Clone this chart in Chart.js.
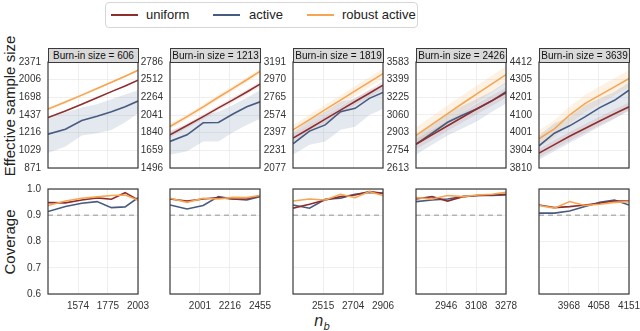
<!DOCTYPE html>
<html>
<head>
<meta charset="utf-8">
<script src="https://cdn.jsdelivr.net/npm/chart.js@4/dist/chart.umd.min.js"></script>
<style>
  body { margin: 0; width: 640px; height: 331px; position: relative; overflow: hidden; background: #fff;
         font-family: "Liberation Sans", Arial, sans-serif; color: #222; }
  .pane { position: absolute; }
  .head { position: absolute; top: 48px; width: 91px; height: 15px; box-sizing: border-box; background: #d9d9d9;
          border: 1px solid #3a3a3a; font-size: 10px; line-height: 13px; text-align: center; color: #111;
          white-space: nowrap; overflow: hidden; z-index: 2; }
  #legend { position: absolute; left: 105px; top: 2px; width: 313px; height: 26px; box-sizing: border-box;
            border: 1px solid #d6d6d6; border-radius: 4px; }
  .swatch { position: absolute; top: 11px; width: 27px; height: 2px; }
  .ltext { position: absolute; top: 3px; font-size: 13px; line-height: 18px; color: #222; white-space: nowrap; }
  .ytitle { position: absolute; transform: translate(-50%, -50%) rotate(-90deg); white-space: nowrap; font-size: 15px; color: #222; }
  #xtitle { position: absolute; left: 322px; top: 322px; transform: translate(-50%, -50%); font-family: "DejaVu Sans", sans-serif;
            font-style: italic; font-size: 15px; color: #222; }
  #xtitle sub { font-size: 10px; }
</style>
</head>
<body>
<div id="legend"></div>
<div class="ytitle" style="left:9px; top:106px;">Effective sample size</div>
<div class="ytitle" style="left:9px; top:242px;">Coverage</div>
<div id="xtitle">n<sub>b</sub></div>

<script>
const seriesNames = ['uniform', 'active', 'robust active'];
const seriesColors = ['#8f2d2d', '#475b80', '#f7a550'];
const bandColors = ['rgba(143,45,45,0.1)', 'rgba(120,140,175,0.2)', 'rgba(247,165,80,0.15)'];

const burnIn = [606, 1213, 1819, 2426, 3639];

// n_b values per panel
const nbValues = [
  [1395, 1496, 1598, 1699, 1800, 1902, 2003],
  [1807, 1915, 2023, 2131, 2239, 2347, 2455],
  [2339, 2434, 2528, 2623, 2717, 2812, 2906],
  [2792, 2873, 2954, 3035, 3116, 3197, 3278],
  [3880, 3925, 3970, 4016, 4061, 4106, 4151]
];
const nbTicks = [
  [1574, 1775, 2003],
  [2001, 2216, 2455],
  [2515, 2704, 2906],
  [2946, 3108, 3278],
  [3968, 4058, 4151]
];
const essTicks = [
  [871, 1029, 1216, 1437, 1698, 2006, 2371],
  [1496, 1659, 1840, 2041, 2264, 2512, 2786],
  [2077, 2231, 2397, 2574, 2765, 2970, 3191],
  [2613, 2754, 2903, 3060, 3225, 3399, 3583],
  [3810, 3904, 4001, 4100, 4201, 4305, 4412]
];

// effective sample size
const essUniform = [
  [1402, 1494, 1592, 1691, 1792, 1892, 1997],
  [1817, 1920, 2022, 2128, 2231, 2337, 2446],
  [2344, 2437, 2532, 2626, 2719, 2812, 2905],
  [2805, 2884, 2963, 3042, 3119, 3194, 3269],
  [3889, 3935, 3981, 4024, 4066, 4107, 4147]
];
const essUniformLo = [
  [1394, 1485, 1583, 1681, 1782, 1881, 1985],
  [1790, 1891, 1992, 2096, 2198, 2302, 2409],
  [2309, 2400, 2494, 2587, 2678, 2770, 2861],
  [2763, 2841, 2919, 2996, 3072, 3146, 3220],
  [3866, 3911, 3957, 4000, 4042, 4082, 4122]
];
const essUniformHi = [
  [1410, 1503, 1601, 1701, 1802, 1903, 2009],
  [1844, 1949, 2052, 2160, 2264, 2372, 2483],
  [2379, 2474, 2570, 2665, 2760, 2854, 2949],
  [2847, 2927, 3007, 3088, 3166, 3242, 3318],
  [3912, 3959, 4005, 4048, 4090, 4132, 4172]
];
const essActive = [
  [1199, 1257, 1364, 1420, 1483, 1555, 1639],
  [1748, 1817, 1950, 1954, 2053, 2142, 2206],
  [2291, 2412, 2473, 2610, 2645, 2754, 2821],
  [2805, 2898, 2994, 3060, 3120, 3192, 3279],
  [3929, 3998, 4039, 4089, 4142, 4184, 4243]
];
const essActiveLo = [
  [1003, 1067, 1183, 1209, 1247, 1342, 1461],
  [1617, 1650, 1748, 1748, 1845, 1926, 1996],
  [2191, 2282, 2313, 2424, 2456, 2575, 2637],
  [2718, 2800, 2879, 2941, 3006, 3090, 3167],
  [3854, 3899, 3944, 3989, 4035, 4078, 4128]
];
const essActiveHi = [
  [1411, 1470, 1541, 1589, 1669, 1745, 1816],
  [1862, 1926, 2034, 2081, 2164, 2259, 2362],
  [2401, 2523, 2610, 2717, 2753, 2847, 2913],
  [2885, 2971, 3076, 3146, 3214, 3285, 3377],
  [3985, 4054, 4090, 4157, 4195, 4234, 4288]
];
const essRobust = [
  [1520, 1626, 1734, 1846, 1958, 2073, 2193],
  [1908, 2022, 2142, 2265, 2387, 2511, 2638],
  [2424, 2526, 2631, 2734, 2838, 2941, 3045],
  [2879, 2975, 3072, 3169, 3264, 3357, 3451],
  [3967, 4022, 4100, 4165, 4214, 4263, 4312]
];
const essRobustLo = [
  [1497, 1603, 1711, 1824, 1937, 2052, 2171],
  [1879, 1992, 2110, 2231, 2351, 2473, 2598],
  [2376, 2475, 2578, 2679, 2781, 2882, 2984],
  [2807, 2901, 2995, 3090, 3182, 3273, 3365],
  [3919, 3974, 4051, 4115, 4163, 4212, 4260]
];
const essRobustHi = [
  [1543, 1649, 1757, 1868, 1979, 2094, 2215],
  [1937, 2052, 2174, 2299, 2423, 2549, 2678],
  [2472, 2577, 2684, 2789, 2895, 3000, 3106],
  [2951, 3049, 3149, 3248, 3346, 3441, 3537],
  [4015, 4070, 4149, 4215, 4265, 4314, 4364]
];

// coverage
const covUniform = [
  [0.948, 0.947, 0.958, 0.966, 0.961, 0.986, 0.958],
  [0.962, 0.954, 0.962, 0.967, 0.962, 0.962, 0.975],
  [0.927, 0.942, 0.958, 0.971, 0.977, 0.990, 0.984],
  [0.962, 0.971, 0.954, 0.971, 0.975, 0.977, 0.980],
  [0.939, 0.929, 0.933, 0.939, 0.946, 0.954, 0.954]
];
const covActive = [
  [0.914, 0.933, 0.946, 0.952, 0.929, 0.932, 0.967],
  [0.939, 0.924, 0.937, 0.971, 0.962, 0.958, 0.971],
  [0.939, 0.927, 0.961, 0.965, 0.980, 0.987, 0.984],
  [0.952, 0.958, 0.962, 0.971, 0.975, 0.975, 0.977],
  [0.908, 0.908, 0.916, 0.933, 0.949, 0.958, 0.939]
];
const covRobust = [
  [0.937, 0.954, 0.965, 0.970, 0.975, 0.977, 0.958],
  [0.965, 0.949, 0.965, 0.962, 0.968, 0.967, 0.975],
  [0.954, 0.962, 0.958, 0.980, 0.967, 0.990, 0.975],
  [0.967, 0.962, 0.975, 0.971, 0.977, 0.980, 0.987],
  [0.937, 0.927, 0.952, 0.937, 0.942, 0.949, 0.952]
];
const coverageTicks = [0.6, 0.7, 0.8, 0.9, 1.0];
const nominalCoverage = 0.9;

// layout
const boxLeft = [48, 170, 293, 416, 539];
const boxW = 90, axisW = 45;
const topBox = { top: 62, height: 106 };
const botBox = { top: 189, height: 105 };

Chart.defaults.font.family = '"Liberation Sans", Arial, sans-serif';
Chart.defaults.color = '#333';

const gridColor = '#ebebeb';
const tickFont = { size: 10 };

const framePlugin = {
  id: 'frame',
  afterDraw(chart) {
    const { ctx, chartArea: a } = chart;
    ctx.save();
    ctx.strokeStyle = '#3a3a3a';
    ctx.lineWidth = 1.2;
    ctx.strokeRect(a.left, a.top, a.width, a.height);
    ctx.restore();
  }
};

function pts(xs, ys) {
  return xs.map((x, i) => ({ x: x, y: ys[i] }));
}

function makeCanvas(left, top, width, height) {
  const div = document.createElement('div');
  div.className = 'pane';
  div.style.left = left + 'px';
  div.style.top = top + 'px';
  div.style.width = width + 'px';
  div.style.height = height + 'px';
  const c = document.createElement('canvas');
  c.width = width;
  c.height = height;
  div.appendChild(c);
  document.body.appendChild(div);
  return c;
}

function xScale(k, showLabels, h) {
  return {
    type: 'logarithmic',
    min: nbValues[k][0],
    max: nbValues[k][nbValues[k].length - 1],
    afterBuildTicks: s => { s.ticks = nbTicks[k].map(v => ({ value: v })); },
    afterFit: s => { s.height = h; },
    ticks: { display: showLabels, callback: v => String(v), font: tickFont, padding: 6, maxRotation: 0, autoSkip: false },
    grid: { color: gridColor, drawTicks: false, lineWidth: 0.8 },
    border: { display: false }
  };
}

// legend
const legend = document.getElementById('legend');
const legendX = [[5, 40], [107, 143], [201, 236]];
seriesNames.forEach((name, i) => {
  const sw = document.createElement('div');
  sw.className = 'swatch';
  sw.style.left = legendX[i][0] + 'px';
  sw.style.background = seriesColors[i];
  legend.appendChild(sw);
  const t = document.createElement('div');
  t.className = 'ltext';
  t.style.left = legendX[i][1] + 'px';
  t.textContent = name;
  legend.appendChild(t);
});

const essMid = [essUniform, essActive, essRobust];
const essLo = [essUniformLo, essActiveLo, essRobustLo];
const essHi = [essUniformHi, essActiveHi, essRobustHi];
const covAll = [covUniform, covActive, covRobust];

burnIn.forEach((b, k) => {
  const nb = nbValues[k];

  // header strip
  const head = document.createElement('div');
  head.className = 'head';
  head.style.left = boxLeft[k] + 'px';
  head.textContent = 'Burn-in size = ' + b;
  document.body.appendChild(head);

  // effective sample size panel
  const padT = 16, padB = 16, padR = 2;
  const cTop = makeCanvas(boxLeft[k] - axisW, topBox.top - padT, axisW + boxW + padR, padT + topBox.height + padB);
  const topSets = [];
  [0, 1, 2].forEach(s => {
    topSets.push({ data: pts(nb, essLo[s][k]), borderWidth: 0, pointRadius: 0, fill: false, order: 3 });
    topSets.push({ data: pts(nb, essHi[s][k]), borderWidth: 0, pointRadius: 0, fill: '-1',
                   backgroundColor: bandColors[s], order: 3 });
  });
  [2, 0, 1].forEach(s => {
    topSets.push({ label: seriesNames[s], data: pts(nb, essMid[s][k]), borderColor: seriesColors[s],
                   borderWidth: 1.6, pointRadius: 0, fill: false, order: 1 });
  });
  new Chart(cTop, {
    type: 'line',
    data: { datasets: topSets },
    options: {
      responsive: false, animation: false, devicePixelRatio: 1,
      layout: { padding: { top: padT, bottom: padB, left: 0, right: padR } },
      plugins: { legend: { display: false }, tooltip: { enabled: false } },
      elements: { line: { tension: 0 } },
      scales: {
        x: xScale(k, false, 0),
        y: {
          type: 'logarithmic',
          min: essTicks[k][0],
          max: essTicks[k][essTicks[k].length - 1],
          afterBuildTicks: s => { s.ticks = essTicks[k].map(v => ({ value: v })); },
          afterFit: s => { s.width = axisW; },
          ticks: { callback: v => String(v), font: tickFont, padding: 7, autoSkip: false },
          grid: { color: gridColor, drawTicks: false, lineWidth: 0.8 },
          border: { display: false }
        }
      }
    },
    plugins: [framePlugin]
  });

  // coverage panel
  const xAxisH = 22, padR2 = 18;
  const cBot = makeCanvas(boxLeft[k] - axisW, botBox.top - padT, axisW + boxW + padR2, padT + botBox.height + xAxisH);
  const botSets = [{
    data: [{ x: nb[0], y: nominalCoverage }, { x: nb[nb.length - 1], y: nominalCoverage }],
    borderColor: '#b3b3b3', borderWidth: 1.4, borderDash: [5, 4], pointRadius: 0, fill: false, order: 3
  }];
  [2, 0, 1].forEach(s => {
    botSets.push({ label: seriesNames[s], data: pts(nb, covAll[s][k]), borderColor: seriesColors[s],
                   borderWidth: 1.6, pointRadius: 0, fill: false, order: 1 });
  });
  new Chart(cBot, {
    type: 'line',
    data: { datasets: botSets },
    options: {
      responsive: false, animation: false, devicePixelRatio: 1,
      layout: { padding: { top: padT, bottom: 0, left: 0, right: padR2 } },
      plugins: { legend: { display: false }, tooltip: { enabled: false } },
      elements: { line: { tension: 0 } },
      scales: {
        x: xScale(k, true, xAxisH),
        y: {
          type: 'linear',
          min: coverageTicks[0],
          max: coverageTicks[coverageTicks.length - 1],
          afterBuildTicks: s => { s.ticks = coverageTicks.map(v => ({ value: v })); },
          afterFit: s => { s.width = axisW; },
          ticks: { display: k === 0, callback: v => v.toFixed(1), font: tickFont, padding: 7 },
          grid: { color: gridColor, drawTicks: false, lineWidth: 0.8 },
          border: { display: false }
        }
      }
    },
    plugins: [framePlugin]
  });
});
</script>
</body>
</html>
